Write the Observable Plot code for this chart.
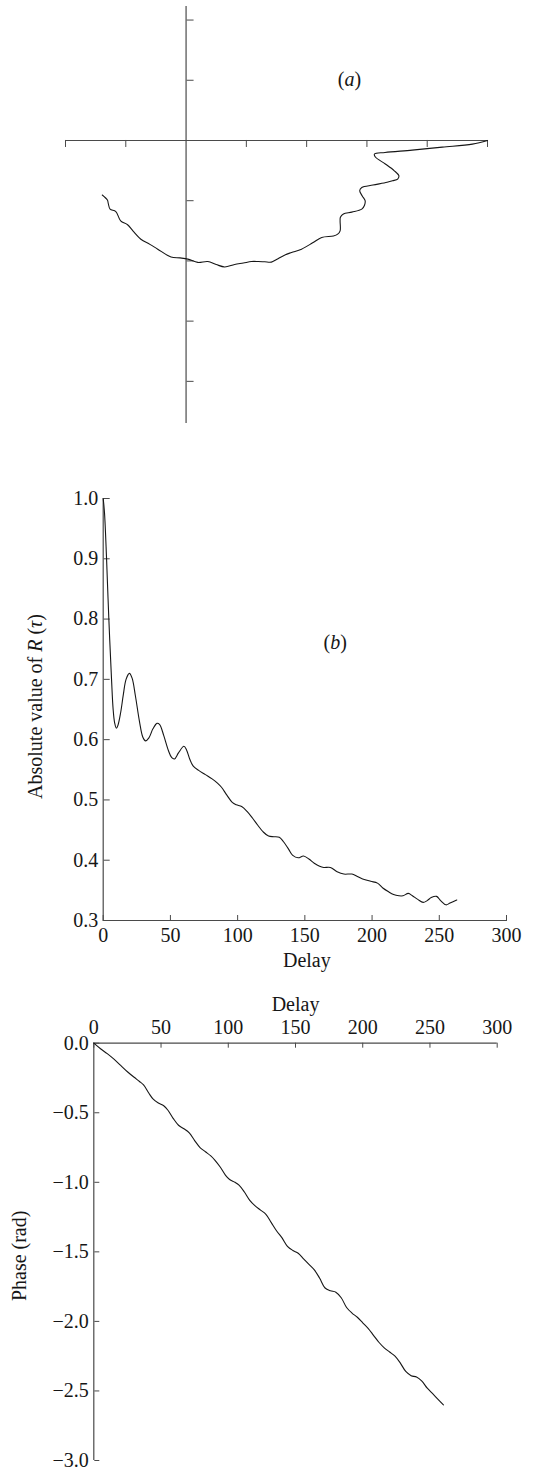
<!DOCTYPE html>
<html><head><meta charset="utf-8">
<script src="https://cdn.jsdelivr.net/npm/d3@7"></script>
<script src="https://cdn.jsdelivr.net/npm/@observablehq/plot@0.6"></script>
<style>
html,body{margin:0;padding:0;background:#fff;}
#wrap{position:relative;width:545px;height:1474px;overflow:hidden;background:#fff;}
#wrap svg{position:absolute;left:0;}
#wrap svg text{font-family:'Liberation Serif','Times New Roman','DejaVu Serif',serif !important;}
</style></head><body><div id="wrap"></div>
<script>
// ---- Panel (a): complex plane, real and imaginary parts of R(tau)
const reA = [1.0, 0.95, 0.85, 0.75, 0.66, 0.625, 0.628, 0.661, 0.69, 0.706, 0.702, 0.685, 0.667, 0.62, 0.583, 0.576, 0.585, 0.594, 0.592, 0.583, 0.55, 0.522, 0.512, 0.511, 0.511, 0.503, 0.489, 0.45, 0.42, 0.383, 0.35, 0.328, 0.30, 0.283, 0.261, 0.239, 0.217, 0.19, 0.161, 0.128, 0.10, 0.072, 0.039, 0.006, -0.02, -0.05, -0.094, -0.12, -0.15, -0.175, -0.194, -0.217, -0.233, -0.252, -0.258, -0.261, -0.278];
const imA = [0, -0.012, -0.022, -0.032, -0.04, -0.045, -0.055, -0.078, -0.1, -0.117, -0.128, -0.134, -0.139, -0.148, -0.156, -0.167, -0.185, -0.2, -0.215, -0.228, -0.238, -0.244, -0.255, -0.267, -0.3, -0.311, -0.317, -0.322, -0.34, -0.361, -0.372, -0.38, -0.395, -0.404, -0.403, -0.402, -0.402, -0.407, -0.412, -0.42, -0.412, -0.402, -0.405, -0.394, -0.39, -0.387, -0.361, -0.345, -0.328, -0.302, -0.28, -0.267, -0.236, -0.228, -0.21, -0.198, -0.181];
const xTicksA = [-0.4, -0.2, 0.2, 0.4, 0.6, 0.8, 1.0];
const yTicksA = [0.4, 0.2, -0.2, -0.4, -0.6, -0.8];
const xExtentA = [-0.4, 1.0];
const yExtentA = [-0.94, 0.445];

// ---- Panel (b): absolute value of R(tau) vs delay
const delayB = [0, 1, 2.5, 4.2, 6.2, 7.4, 8.5, 9.8, 11, 13, 15, 17, 19.5, 21.5, 24, 27, 29.5, 31.5, 34, 37, 40, 42, 45, 48.5, 51, 53, 56, 60, 62, 64.5, 67, 71, 76, 81, 85, 88, 92, 96, 99, 103, 107, 111, 115, 119, 123, 127, 131, 134, 138, 141, 145, 149, 153, 157, 161, 164, 169, 174, 179, 185, 189, 193, 199, 204, 208, 212, 216, 220, 223, 227, 230, 234, 238, 241, 244, 248, 251, 255, 258, 263];
const absR = [1.000, 0.975, 0.900, 0.800, 0.700, 0.650, 0.628, 0.619, 0.624, 0.645, 0.675, 0.700, 0.710, 0.702, 0.672, 0.630, 0.604, 0.598, 0.603, 0.618, 0.627, 0.625, 0.607, 0.582, 0.570, 0.568, 0.578, 0.589, 0.583, 0.567, 0.556, 0.549, 0.542, 0.535, 0.528, 0.521, 0.508, 0.496, 0.492, 0.489, 0.481, 0.470, 0.458, 0.447, 0.440, 0.439, 0.438, 0.431, 0.418, 0.408, 0.404, 0.407, 0.402, 0.395, 0.390, 0.388, 0.388, 0.381, 0.377, 0.377, 0.373, 0.369, 0.365, 0.362, 0.354, 0.348, 0.343, 0.341, 0.341, 0.345, 0.341, 0.335, 0.330, 0.333, 0.338, 0.340, 0.333, 0.326, 0.329, 0.334];
const xTicks = [0, 50, 100, 150, 200, 250, 300];
const yTicksB = [0.3, 0.4, 0.5, 0.6, 0.7, 0.8, 0.9, 1.0];

// ---- Panel (c): phase vs delay
const delayC = [0, 5, 10, 15, 20, 25, 30, 34, 37, 41, 44, 48, 52, 55, 59, 63, 67, 71, 75, 79, 83, 87, 90, 94, 98, 101, 105, 108, 112, 116, 120, 124, 128, 132, 136, 140, 144, 148, 152, 156, 160, 164, 168, 172, 176, 180, 184, 188, 192, 196, 200, 204, 208, 212, 216, 220, 224, 228, 232, 236, 240, 244, 248, 252, 256, 260];
const phase = [0, -0.04, -0.075, -0.115, -0.16, -0.205, -0.245, -0.275, -0.30, -0.36, -0.40, -0.43, -0.45, -0.48, -0.54, -0.59, -0.615, -0.645, -0.70, -0.75, -0.78, -0.81, -0.84, -0.89, -0.95, -0.98, -1.00, -1.02, -1.07, -1.13, -1.17, -1.20, -1.23, -1.29, -1.35, -1.40, -1.46, -1.49, -1.51, -1.55, -1.59, -1.63, -1.69, -1.76, -1.78, -1.79, -1.83, -1.90, -1.94, -1.97, -2.01, -2.05, -2.10, -2.15, -2.19, -2.22, -2.25, -2.30, -2.36, -2.39, -2.40, -2.43, -2.48, -2.52, -2.56, -2.60];
const yTicksC = [0, -0.5, -1.0, -1.5, -2.0, -2.5, -3.0];

const tableA = reA.map((r, i) => ({re: r, im: imA[i]}));
const tableB = delayB.map((d, i) => ({delay: d, value: absR[i]}));
const tableC = delayC.map((d, i) => ({delay: d, phase: phase[i]}));

const FONT = "'Liberation Serif', 'Times New Roman', 'DejaVu Serif', serif";
const INK = "#161616";
const AXIS = "#4a4a4a";
const styleObj = {fontFamily: FONT, fontSize: "20px", color: INK, background: "white", overflow: "visible"};
const blank = () => "";
const f1 = d3.format(".1f");
const fd = d3.format("d");

const svgA = Plot.plot({
  width: 545, height: 440,
  marginLeft: 65, marginRight: 58, marginTop: 6, marginBottom: 17,
  x: {domain: xExtentA, axis: null, label: null},
  y: {domain: yExtentA, axis: null, label: null},
  style: styleObj,
  marks: [
    Plot.ruleY([0], {x1: xExtentA[0], x2: xExtentA[1], stroke: AXIS, strokeWidth: 1.2}),
    Plot.ruleX([0], {y1: yExtentA[0], y2: yExtentA[1], stroke: AXIS, strokeWidth: 1.2}),
    Plot.axisX(xTicksA, {y: 0, anchor: "bottom", tickSize: 7, tickFormat: blank, stroke: AXIS, label: null}),
    Plot.axisY(yTicksA, {x: 0, anchor: "right", tickSize: 7, tickFormat: blank, stroke: AXIS, label: null}),
    Plot.line(tableA, {x: "re", y: "im", curve: "catmull-rom", stroke: INK, strokeWidth: 1.1}),
    Plot.text(["(a)"], {frameAnchor: "top-left", dx: 284, dy: 73, textAnchor: "middle", lineAnchor: "middle", fill: INK})
  ]
});

const svgB = Plot.plot({
  width: 545, height: 530,
  marginLeft: 102.7, marginRight: 39, marginTop: 48, marginBottom: 60,
  x: {domain: [0, 300], axis: null, label: null},
  y: {domain: [0.3, 1.0], axis: null, label: null},
  style: styleObj,
  marks: [
    Plot.ruleX([0], {y1: 0.3, y2: 1.0, stroke: AXIS, strokeWidth: 1.2}),
    Plot.ruleY([0.3], {x1: 0, x2: 300, stroke: AXIS, strokeWidth: 1.2}),
    Plot.axisY(yTicksB, {x: 0, anchor: "right", tickSize: 6, tickFormat: blank, stroke: AXIS, label: null}),
    Plot.axisX(xTicks, {y: 0.3, anchor: "top", tickSize: 6, tickFormat: blank, stroke: AXIS, label: null}),
    Plot.axisY(yTicksB, {anchor: "left", tickSize: 0, tickPadding: 5, tickFormat: f1, fill: INK, label: null}),
    Plot.axisX(xTicks, {anchor: "bottom", tickSize: 0, tickPadding: 7.5, tickFormat: fd, fill: INK, label: null}),
    Plot.line(tableB, {x: "delay", y: "value", curve: "catmull-rom", stroke: INK, strokeWidth: 1.1}),
    Plot.text(["Delay"], {frameAnchor: "bottom", dx: 2, dy: 46, textAnchor: "middle", lineAnchor: "bottom", fill: INK}),
    Plot.text(["Absolute value of R (τ)"], {frameAnchor: "left", dx: -61.5, dy: -3, rotate: -90, textAnchor: "middle", lineAnchor: "bottom", fill: INK}),
    Plot.text(["(b)"], {frameAnchor: "top-left", dx: 232, dy: 144, textAnchor: "middle", lineAnchor: "middle", fill: INK})
  ]
});

const svgC = Plot.plot({
  width: 545, height: 484,
  marginLeft: 93.3, marginRight: 48.3, marginTop: 52.7, marginBottom: 14,
  x: {domain: [0, 300], axis: null, label: null},
  y: {domain: [-3, 0], axis: null, label: null},
  style: styleObj,
  marks: [
    Plot.ruleX([0], {y1: -3, y2: 0, stroke: AXIS, strokeWidth: 1.2}),
    Plot.ruleY([0], {x1: 0, x2: 300, stroke: AXIS, strokeWidth: 1.2}),
    Plot.axisY(yTicksC, {x: 0, anchor: "right", tickSize: 5, tickFormat: blank, stroke: AXIS, label: null}),
    Plot.axisX(xTicks, {y: 0, anchor: "bottom", tickSize: 5, tickFormat: blank, stroke: AXIS, label: null}),
    Plot.axisY(yTicksC, {anchor: "left", tickSize: 0, tickPadding: 5, tickFormat: f1, fill: INK, label: null}),
    Plot.axisX(xTicks, {anchor: "top", tickSize: 0, tickPadding: 9, tickFormat: fd, fill: INK, label: null}),
    Plot.line(tableC, {x: "delay", y: "phase", curve: "catmull-rom", stroke: INK, strokeWidth: 1.1}),
    Plot.text(["Delay"], {frameAnchor: "top", dy: -32.7, textAnchor: "middle", lineAnchor: "bottom", fill: INK}),
    Plot.text(["Phase (rad)"], {frameAnchor: "left", dx: -68, dy: 4, rotate: -90, textAnchor: "middle", lineAnchor: "bottom", fill: INK})
  ]
});

const wrap = document.getElementById("wrap");
[[svgA, 0], [svgB, 450], [svgC, 990]].forEach(([s, top]) => {
  s.style.position = "absolute";
  s.style.top = top + "px";
  s.style.left = "0px";
  wrap.appendChild(s);
});

// italic parts of labels
const NS = "http://www.w3.org/2000/svg";
function styleText(svg, content, parts) {
  svg.querySelectorAll("text").forEach(t => {
    if (t.textContent === content) {
      while (t.firstChild) t.removeChild(t.firstChild);
      parts.forEach(([str, it]) => {
        const ts = document.createElementNS(NS, "tspan");
        ts.textContent = str;
        if (it) ts.setAttribute("font-style", "italic");
        t.appendChild(ts);
      });
    }
  });
}
styleText(svgA, "(a)", [["(", false], ["a", true], [")", false]]);
styleText(svgB, "(b)", [["(", false], ["b", true], [")", false]]);
styleText(svgB, "Absolute value of R (τ)", [["Absolute value of ", false], ["R", true], [" (", false], ["τ", true], [")", false]]);
</script></body></html>
